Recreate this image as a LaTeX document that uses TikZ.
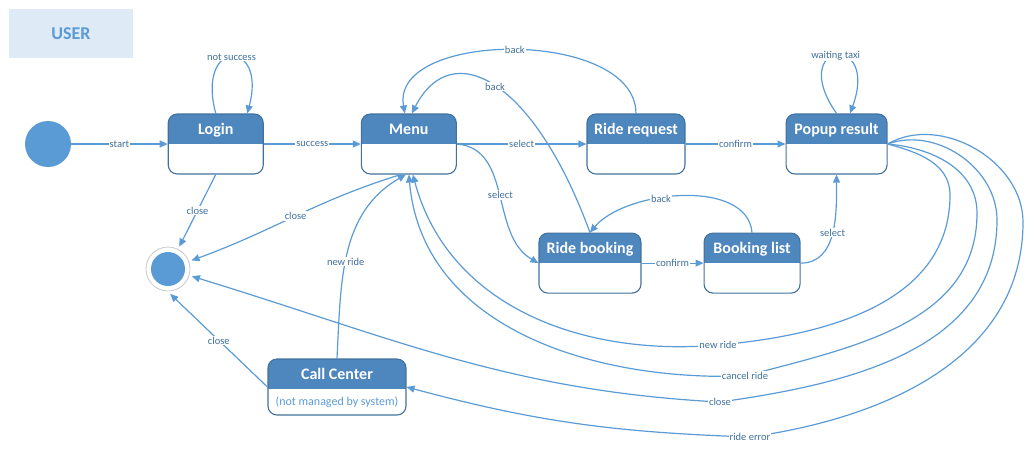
\documentclass[tikz,border=0pt]{standalone}
\usepackage{fontspec}
\setmainfont{Carlito}
\usetikzlibrary{positioning,arrows.meta,calc}

\definecolor{linec}{HTML}{5B9BD5}
\definecolor{headc}{HTML}{4E86BE}
\definecolor{borderc}{HTML}{41719C}
\definecolor{labelc}{HTML}{41719C}
\definecolor{userc}{HTML}{DEEAF6}
\definecolor{ringc}{HTML}{C9C9C9}

\tikzset{
  statebox/.style={draw=borderc,line width=1.1pt,rounded corners=9pt,minimum width=95pt,
    inner sep=0pt,text height=20pt,text depth=40pt,text=white,
    font=\bfseries\fontsize{16}{18}\selectfont,
    path picture={\fill[headc,sharp corners] (path picture bounding box.north west) rectangle ([yshift=-30pt]path picture bounding box.north east);}},
  subtext/.style={text=linec,inner sep=0pt,font=\fontsize{12}{14}\selectfont},
  startdot/.style={circle,fill=linec,minimum size=46pt,inner sep=0pt},
  enddot/.style={circle,draw=ringc,line width=0.8pt,fill=white,minimum size=44pt,inner sep=0pt,outer sep=3pt,
    path picture={\fill[linec] (path picture bounding box.center) circle (17pt);}},
  userbox/.style={fill=userc,minimum width=124pt,minimum height=49pt,text=linec,
    font=\bfseries\fontsize{18}{20}\selectfont},
  lbl/.style={fill=white,inner sep=1pt,text=labelc,font=\fontsize{10.5}{12}\selectfont},
  arr/.style={draw=linec,color=linec,line width=1.2pt,-{Triangle[length=8pt,width=7pt]}},
}

\begin{document}
\begin{tikzpicture}[x=1pt,y=1pt]
\useasboundingbox (0,0) rectangle (1036,-459);

%%%%%%%%%%%%%%%%%%%%%% STATES

\node[userbox] (user) at (71,-33.5) {USER};
\node[startdot] (ini) at (48,-144) {};
\node[statebox,right=96.5pt of ini] (login) {Login};
\node[statebox,right=97pt of login] (menu) {Menu};
\node[statebox,minimum width=98pt,right=129.5pt of menu] (rreq) {Ride request};
\node[statebox,minimum width=101pt,right=100pt of rreq] (popup) {Popup result};
\node[statebox,minimum width=102pt,below=58pt of rreq,xshift=-46pt] (rbook) {Ride booking};
\node[statebox,minimum width=96pt,right=62pt of rbook] (blist) {Booking list};
\node[enddot] (fin) at (168,-269) {};
\node[statebox,minimum width=138pt,text depth=36pt] (cc) at (337,-387) {Call Center};
\node[subtext] (ccnote) at ([yshift=13pt]cc.south) {(not managed by system)};

%%%%%%%%%%%%%%%%%%%%%% MAIN ROW

\draw[arr] (ini) edge node[lbl] {start} (login);
\draw[arr] (login) edge node[lbl] {success} (menu);
\draw[arr] (menu) edge node[lbl] {select} (rreq);
\draw[arr] (rreq) edge node[lbl] {confirm} (popup);
\draw[arr] (rbook) edge node[lbl] {confirm} (blist);
\path[arr] (login.north) to [out=105,in=75,distance=78pt] node[lbl] {not success} ([xshift=31.5pt]login.north);
\path[arr] (popup.north) to [out=125,in=70,distance=88pt] node[lbl] {waiting taxi} ([xshift=13.5pt]popup.north);

%%%%%%%%%%%%%%%%%%%%%% BACK AND SELECT

\path[arr] (rreq.north) to [out=90,in=100,distance=85pt] node[lbl] {back} ([xshift=-4pt]menu.north);
\path[arr] (rbook.north) to [out=110,in=63,out distance=162pt,in distance=88pt] node[lbl] {back} ([xshift=3pt]menu.north);
\path[arr] (blist.north) to [out=95,in=50,distance=55pt] node[lbl,pos=0.6] {back} (rbook.north);
\path[arr] (menu.east) to [out=-5,in=150] node[lbl] {select} (rbook.west);
\path[arr] (blist.east) to [out=0,in=-90] node[lbl] {select} (popup.south);

%%%%%%%%%%%%%%%%%%%%%% CLOSE

\draw[arr] (login.south) -- node[lbl] {close} (fin);
\path[arr] ([xshift=-8pt]menu.south) to [out=197,in=20] node[lbl] {close} (fin);
\draw[arr] (cc.west) -- node[lbl] {close} (fin.275);
\path[arr] (cc.north) to [out=87,in=210] node[lbl,pos=0.45] {new ride} ([xshift=-3pt]menu.south);

%%%%%%%%%%%%%%%%%%%%%% FROM POPUP

\path[arr] (popup.east) to [out=-15,in=90] (950,-195) to [out=-90,in=5] (718,-345) node[lbl] {new ride}
  to [out=185,in=-75] ([xshift=4pt]menu.south);
\path[arr] (popup.east) to [out=-5,in=90] (977,-213) to [out=-90,in=15] (745,-376) node[lbl] {cancel ride}
  to [out=182,in=-85] (menu.south);
\path[arr] (popup.east) to [out=20,in=90] (997,-220) to [out=-90,in=8] (720,-402) node[lbl] {close}
  to [out=177,in=-17] (fin);
\path[arr] (popup.east) to [out=30,in=90] (1023,-222) to [out=-90,in=8] (750,-437) node[lbl] {ride error}
  to [out=178,in=-15] (cc.east);

\end{tikzpicture}
\end{document}
